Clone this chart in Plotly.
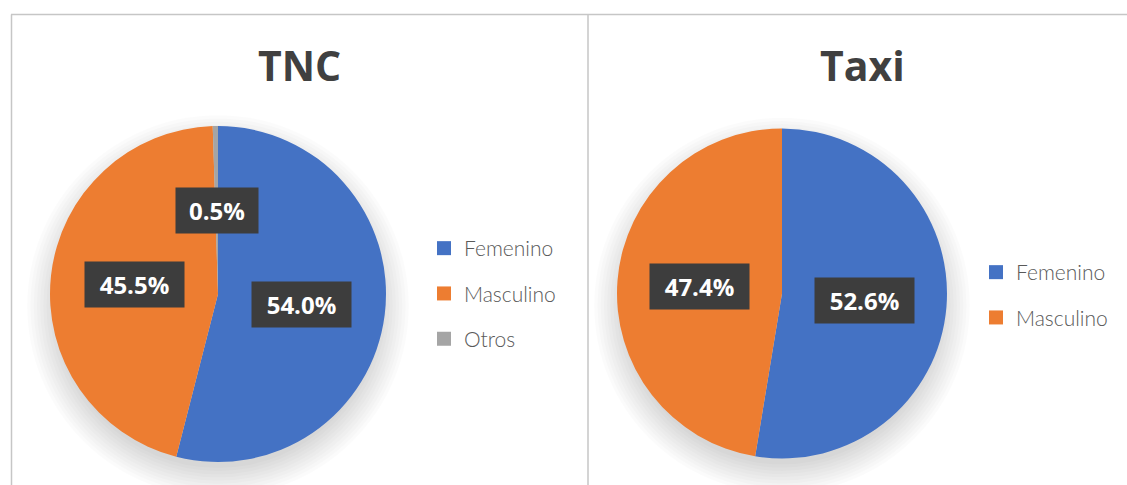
import math
import plotly.graph_objects as go

# ---- data ----
categories_tnc = ["Femenino", "Masculino", "Otros"]
values_tnc = [54.0, 45.5, 0.5]
categories_taxi = ["Femenino", "Masculino"]
values_taxi = [52.6, 47.4]
titles = ["TNC", "Taxi"]

colors = {"Femenino": "#4472C4", "Masculino": "#ED7D31", "Otros": "#A5A5A5"}

W, H = 1127, 485

# layout geometry (pixels)
pies = [
    dict(cx=218, cy=294, r=168, cats=categories_tnc, vals=values_tnc, title=titles[0], tx=299,
         legend="legend"),
    dict(cx=782, cy=293.5, r=165, cats=categories_taxi, vals=values_taxi, title=titles[1], tx=862,
         legend="legend2"),
]

def px_x(x):
    return x / W

def px_y(y):
    return 1 - y / H

fig = go.Figure()
annotations = []
shapes = []

for p in pies:
    cx, cy, r = p["cx"], p["cy"], p["r"]
    fig.add_trace(go.Pie(
        labels=p["cats"], values=p["vals"], sort=False, direction="clockwise", rotation=0,
        marker=dict(colors=[colors[c] for c in p["cats"]], line=dict(width=0)),
        textinfo="none", hoverinfo="label+percent", showlegend=False,
        domain=dict(x=[px_x(cx - r), px_x(cx + r)], y=[px_y(cy + r), px_y(cy - r)]),
    ))
    # soft shadow
    for k in range(10):
        rr = r - 6 + k * 3.2
        shapes.append(dict(type="circle", xref="paper", yref="paper", layer="below",
                           x0=px_x(cx - rr), x1=px_x(cx + rr),
                           y0=px_y(cy + 12 + rr), y1=px_y(cy + 12 - rr),
                           fillcolor="rgba(0,0,0,0.015)", line=dict(width=0)))
    # labels in dark boxes
    total = sum(p["vals"])
    cum = 0
    for c, v in zip(p["cats"], p["vals"]):
        mid = (cum + v / 2) / total * 2 * math.pi
        cum += v
        lx = cx + 0.5 * r * math.sin(mid)
        ly = cy - 0.5 * r * math.cos(mid)
        txt = f"{v:.1f}%"
        annotations.append(dict(
            x=px_x(lx), y=px_y(ly), xref="paper", yref="paper", text=f"<b>{txt}</b>",
            xanchor="center", yanchor="middle",
            showarrow=False, font=dict(family="Open Sans", size=24, color="white"),
            bgcolor="#3d3d3d", borderpad=7, width=17 * len(txt), height=31,
        ))
    # title
    annotations.append(dict(
        x=px_x(p["tx"]), y=px_y(65), xref="paper", yref="paper", text=f"<b>{p['title']}</b>",
        showarrow=False, font=dict(family="Open Sans", size=41, color="#404040"),
        xanchor="center", yanchor="middle",
    ))
    # legend entries
    for c in p["cats"]:
        fig.add_trace(go.Scatter(
            x=[None], y=[None], mode="markers", name=c, legend=p["legend"],
            legendgroup=p["legend"] + c,
            marker=dict(symbol="square", size=14, color=colors[c]),
            showlegend=True, hoverinfo="skip",
        ))

# panel borders
border = "#c6c6c6"
shapes += [
    dict(type="line", xref="paper", yref="paper", x0=px_x(11), x1=1, y0=px_y(14.5), y1=px_y(14.5),
         line=dict(color=border, width=1.5)),
    dict(type="line", xref="paper", yref="paper", x0=px_x(11.5), x1=px_x(11.5), y0=0, y1=px_y(14.5),
         line=dict(color=border, width=1.5)),
    dict(type="line", xref="paper", yref="paper", x0=px_x(588), x1=px_x(588), y0=0, y1=px_y(14.5),
         line=dict(color=border, width=1.5)),
]

legend_font = dict(family="Lato", size=21, color="#595959", weight=300)
fig.update_layout(
    width=W, height=H,
    margin=dict(l=0, r=0, t=0, b=0),
    paper_bgcolor="white", plot_bgcolor="rgba(0,0,0,0)",
    xaxis=dict(visible=False), yaxis=dict(visible=False),
    showlegend=True,
    legend=dict(x=px_x(424), y=px_y(228), xanchor="left", yanchor="top", font=legend_font,
                tracegroupgap=15, bgcolor="rgba(0,0,0,0)", itemsizing="trace"),
    legend2=dict(x=px_x(976), y=px_y(252), xanchor="left", yanchor="top", font=legend_font,
                 tracegroupgap=15, bgcolor="rgba(0,0,0,0)", itemsizing="trace"),
    annotations=annotations,
    shapes=shapes,
)

fig.write_html("out.html", config={"displayModeBar": False},
               post_script="document.body.style.margin='0px';")
